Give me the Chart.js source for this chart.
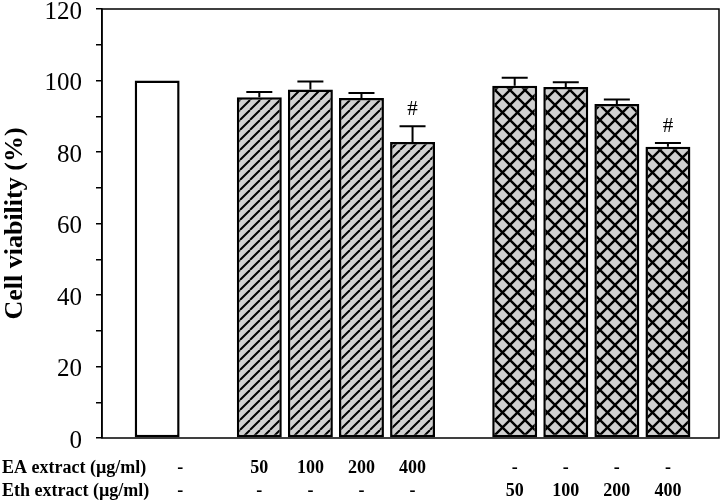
<!DOCTYPE html>
<html>
<head>
<meta charset="utf-8">
<script src="https://cdn.jsdelivr.net/npm/chart.js@4"></script>
<style>
  html, body { margin: 0; padding: 0; background: #fff; }
  #wrap { width: 720px; height: 504px; }
</style>
</head>
<body>
<div id="wrap"><canvas id="chart"></canvas></div>
<script>
// values
const controlViability = [100];
const eaViability = [95.3, 97.5, 95.1, 82.8];
const eaError = [1.5, 2.2, 1.4, 4.4];
const ethViability = [98.5, 98.2, 93.4, 81.5];
const ethError = [2.3, 1.3, 1.3, 1.0];
const eaMarks = ["", "", "", "#"];
const ethMarks = ["", "", "", "#"];

// the two rows under the axis (control, EA x4, Eth x4)
const eaRow = ["-", "50", "100", "200", "400", "-", "-", "-", "-"];
const ethRow = ["-", "-", "-", "-", "-", "50", "100", "200", "400"];
const rowNames = ["EA extract (\u00b5g/ml)", "Eth extract (\u00b5g/ml)"];

const yMin = 0;
const yMax = 120;
const yStep = 10;
const yLabelStep = 20;

// slots: control, gap, EA group, gap, Eth group
const controlSlot = 1;
const eaSlots = eaViability.map((v, i) => controlSlot + 2 + i);
const ethSlots = ethViability.map((v, i) => eaSlots[eaSlots.length - 1] + 2 + i);
const allSlots = [controlSlot].concat(eaSlots, ethSlots);

const serif = "'Liberation Serif', 'Times New Roman', serif";

const makePattern = (kind) => {
  const t = kind === "cross" ? 15 : 10;
  const c = document.createElement("canvas");
  c.width = t;
  c.height = t;
  const p = c.getContext("2d");
  p.fillStyle = "#d0d0d0";
  p.fillRect(0, 0, t, t);
  p.strokeStyle = "#000";
  p.lineWidth = kind === "cross" ? 2.4 : 2;
  p.beginPath();
  for (let x0 = -t; x0 <= t; x0 += t) {
    p.moveTo(x0, t);
    p.lineTo(x0 + t, 0);
    if (kind === "cross") {
      p.moveTo(x0, 0);
      p.lineTo(x0 + t, t);
    }
  }
  p.stroke();
  return p.createPattern(c, "repeat");
};

const ctx = document.getElementById("chart").getContext("2d");

const errorBars = {
  id: "errorBars",
  afterDatasetsDraw(chart) {
    const c = chart.ctx;
    const y = chart.scales.y;
    c.save();
    c.strokeStyle = "#000";
    c.lineWidth = 2;
    c.fillStyle = "#000";
    c.font = "21px " + serif;
    c.textAlign = "center";
    c.textBaseline = "middle";
    chart.data.datasets.forEach((ds, di) => {
      const meta = chart.getDatasetMeta(di);
      meta.data.forEach((bar, i) => {
        const err = ds.errors ? ds.errors[i] : 0;
        const v = ds.data[i].y;
        const top = y.getPixelForValue(v + err);
        if (err > 0) {
          c.beginPath();
          c.moveTo(bar.x, bar.y);
          c.lineTo(bar.x, top);
          c.moveTo(bar.x - 13, top);
          c.lineTo(bar.x + 13, top);
          c.stroke();
        }
        if (ds.marks && ds.marks[i]) {
          c.fillText(ds.marks[i], bar.x, top - 17);
        }
      });
    });
    c.restore();
  },
};

const frameAndRows = {
  id: "frameAndRows",
  afterDraw(chart) {
    const c = chart.ctx;
    const a = chart.chartArea;
    const x = chart.scales.x;
    c.save();
    c.strokeStyle = "#000";
    c.lineWidth = 1.5;
    c.strokeRect(a.left, a.top, a.right - a.left, a.bottom - a.top);

    c.fillStyle = "#000";
    c.font = "bold 18px " + serif;
    c.textBaseline = "middle";
    const rowY = [468, 491];
    c.textAlign = "left";
    rowNames.forEach((name, r) => c.fillText(name, 2, rowY[r]));
    c.textAlign = "center";
    [eaRow, ethRow].forEach((row, r) => {
      row.forEach((txt, i) => {
        const shift = i === 0 ? 0.45 : 0;
        c.fillText(txt, x.getPixelForValue(allSlots[i] + shift), rowY[r]);
      });
    });
    c.restore();
  },
};

new Chart(ctx, {
  type: "bar",
  data: {
    datasets: [
      {
        label: "Control",
        data: controlViability.map((v, i) => ({ x: controlSlot, y: v })),
        errors: [0],
        backgroundColor: "#ffffff",
      },
      {
        label: "EA extract",
        data: eaViability.map((v, i) => ({ x: eaSlots[i], y: v })),
        errors: eaError,
        marks: eaMarks,
        backgroundColor: makePattern("diag"),
      },
      {
        label: "Eth extract",
        data: ethViability.map((v, i) => ({ x: ethSlots[i], y: v })),
        errors: ethError,
        marks: ethMarks,
        backgroundColor: makePattern("cross"),
      },
    ],
  },
  options: {
    responsive: true,
    maintainAspectRatio: false,
    animation: false,
    layout: {
      padding: { top: 9, right: 1, bottom: 0, left: 0 },
    },
    datasets: {
      bar: {
        grouped: false,
        borderColor: "#000",
        borderWidth: 2.5,
        borderSkipped: false,
        categoryPercentage: 1,
        barPercentage: 0.88,
      },
    },
    scales: {
      x: {
        type: "linear",
        offset: false,
        bounds: "ticks",
        min: -0.08,
        max: 12,
        ticks: { display: false },
        grid: { display: false, drawTicks: false },
        border: { display: false },
        afterFit: (scale) => {
          scale.height = 66;
          scale.paddingLeft = 0;
          scale.paddingRight = 0;
        },
      },
      y: {
        min: yMin,
        max: yMax,
        ticks: {
          stepSize: yStep,
          color: "#000",
          padding: 14,
          labelOffset: 3,
          font: { family: serif, size: 25 },
          callback: (value) => (value % yLabelStep === 0 ? value : ""),
        },
        grid: {
          drawOnChartArea: false,
          tickLength: 6,
          color: "#000",
          lineWidth: 1.5,
        },
        border: { color: "#000", width: 1.5 },
        title: {
          display: true,
          text: "Cell viability (%)",
          color: "#000",
          font: { family: serif, size: 26, weight: "bold" },
          padding: { top: 0, bottom: 0 },
        },
        afterFit: (scale) => {
          scale.width = 102;
          scale.paddingTop = 0;
          scale.paddingBottom = 0;
        },
      },
    },
    plugins: {
      legend: { display: false },
      tooltip: { enabled: false },
    },
  },
  plugins: [errorBars, frameAndRows],
});
</script>
</body>
</html>
